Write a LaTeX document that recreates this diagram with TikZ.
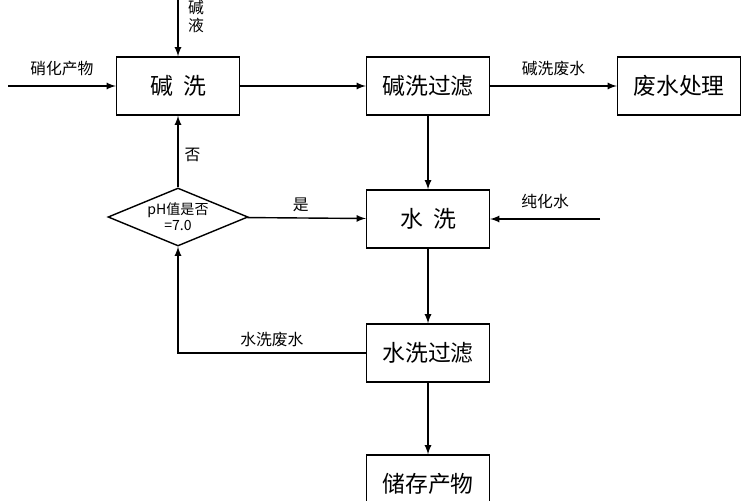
\documentclass[tikz,border=0pt]{standalone}
\usepackage{fontspec}
\setmainfont{Noto Sans CJK SC}
\usetikzlibrary{shapes.geometric}
\tikzset{
  procbox/.style={draw, thick, minimum width=2.46cm, minimum height=1.16cm, font=\fontsize{13}{15}\selectfont},
  judge/.style={draw, thick, diamond, aspect=2.4, minimum width=2.8cm, minimum height=1.16cm, inner sep=0pt, align=center, font=\fontsize{8}{9}\selectfont},
  flow/.style={thick, ->, >=latex},
  lbl/.style={font=\fontsize{9}{10}\selectfont}
}
\begin{document}
\begin{tikzpicture}[x=0.02cm, y=-0.02cm]
  \useasboundingbox (0,0) rectangle (750,500);
  % boxes
  \node[procbox] (jx) at (178,86) {碱\ \ 洗};
  \node[procbox] (jxgl) at (428,86) {碱洗过滤};
  \node[procbox] (fscl) at (679,86) {废水处理};
  \node[procbox] (sx) at (428,219) {水\ \ 洗};
  \node[procbox] (sxgl) at (428,353) {水洗过滤};
  \node[procbox] (cccw) at (428,484) {储存产物};
  \node[judge] (ph) at (178,217) {pH值是否\\=7.0};
  % free ends
  \coordinate (in1) at (8,86);
  \coordinate (in2) at (178,0);
  \coordinate (in3) at (600,219);
  \coordinate (bend) at (178,353);
  % connectors
  \draw[flow] (in1) -- node[lbl, above, pos=0.5, yshift=2pt] {硝化产物} (jx);
  \draw[flow] (in2) -- (jx);
  \node[lbl, align=center, anchor=north west] at (182,-6) {碱\\液};
  \draw[flow] (jx) -- (jxgl);
  \draw[flow] (jxgl) -- node[lbl, above, yshift=2pt] {碱洗废水} (fscl);
  \draw[flow] (jxgl) -- (sx);
  \draw[flow] (in3) -- node[lbl, above, yshift=2pt] {纯化水} (sx);
  \draw[flow] (ph) -- node[lbl, above, pos=0.45] {是} (sx);
  \draw[flow] (ph) -- node[lbl, right, pos=0.45] {否} (jx);
  \draw[flow] (sx) -- (sxgl);
  \draw[flow] (sxgl) -- node[lbl, above, pos=0.5] {水洗废水} (bend) -- (ph);
  \draw[flow] (sxgl) -- (cccw);
\end{tikzpicture}
\end{document}
